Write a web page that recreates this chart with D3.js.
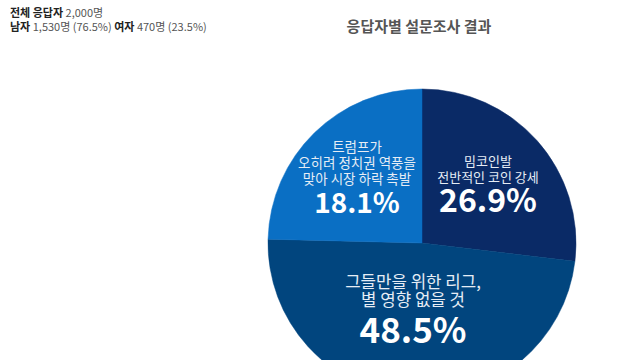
<!DOCTYPE html>
<html><head><meta charset="utf-8">
<script src="https://cdn.jsdelivr.net/npm/d3@7"></script>
<style>
html,body{margin:0;padding:0;background:#fff;}
svg{display:block;font-family:"Noto Sans CJK KR","Noto Sans",sans-serif;}
</style></head>
<body><svg id="chart" width="640" height="360"></svg>
<script>
const categories = ["밈코인발 전반적인 코인 강세", "그들만을 위한 리그, 별 영향 없을 것", "트럼프가 오히려 정치권 역풍을 맞아 시장 하락 촉발", ""];
const values = [26.9, 48.5, 18.1, 6.5];
const labelLines = [["밈코인발", "전반적인 코인 강세"], ["그들만을 위한 리그,", "별 영향 없을 것"], ["트럼프가", "오히려 정치권 역풍을", "맞아 시장 하락 촉발"], []];
const valueLabels = ["26.9%", "48.5%", "18.1%", ""];
const colors = ["#0a2a66", "#01457e", "#0a6fc4", "#0a6fc4"];
const title = "응답자별 설문조사 결과";
const info1 = [["전체 응답자", true], [" 2,000명", false]];
const info2 = [["남자", true], [" 1,530명 (76.5%) ", false], ["여자", true], [" 470명 (23.5%)", false]];

const svg = d3.select("#chart");
const cx = 422, cy = 243, r = 154;

const t1 = svg.append("text").attr("x", 10).attr("y", 17).attr("font-size", 11);
info1.forEach(([s, b]) => t1.append("tspan").text(s).attr("font-weight", b ? 700 : 400).attr("fill", b ? "#222" : "#555"));
const t2 = svg.append("text").attr("x", 10).attr("y", 31).attr("font-size", 11);
info2.forEach(([s, b]) => t2.append("tspan").text(s).attr("font-weight", b ? 700 : 400).attr("fill", b ? "#222" : "#555"));

svg.append("text").attr("x", 419).attr("y", 32).attr("text-anchor", "middle")
  .attr("font-size", 15).attr("font-weight", 700).attr("fill", "#555").text(title);

const pie = d3.pie().sort(null).value(d => d);
const arcs = pie(values);
// the unlabeled remainder shares the colour of the preceding slice; draw them as one shape
const shapes = [arcs[0], arcs[1], {startAngle: arcs[2].startAngle, endAngle: arcs[3].endAngle, index: 2}];
const arc = d3.arc().innerRadius(0).outerRadius(r);
const g = svg.append("g").attr("transform", `translate(${cx},${cy})`);
g.selectAll("path").data(shapes).join("path").attr("d", arc)
  .attr("fill", d => colors[d.index]).attr("stroke", d => colors[d.index]).attr("stroke-width", 0.5);

// label positions (relative to center) per slice
const labelPos = [
  {x: 66, y: -77, lh: 16, fs: 13, vfs: 32, vgap: 30},
  {x: -9, y: 45, lh: 18, fs: 16.8, vfs: 35, vgap: 37},
  {x: -65, y: -91, lh: 16, fs: 13.5, vfs: 28, vgap: 29}
];
labelPos.forEach((p, i) => {
  const lines = labelLines[i];
  lines.forEach((l, j) => {
    g.append("text").attr("x", p.x).attr("y", p.y + j * p.lh).attr("text-anchor", "middle")
      .attr("font-size", p.fs).attr("fill", "#e6edf5").text(l);
  });
  g.append("text").attr("x", p.x).attr("y", p.y + (lines.length - 1) * p.lh + p.vgap)
    .attr("text-anchor", "middle").attr("font-size", p.vfs).attr("font-weight", 700)
    .attr("fill", "#fff").text(valueLabels[i]);
});
</script></body></html>
